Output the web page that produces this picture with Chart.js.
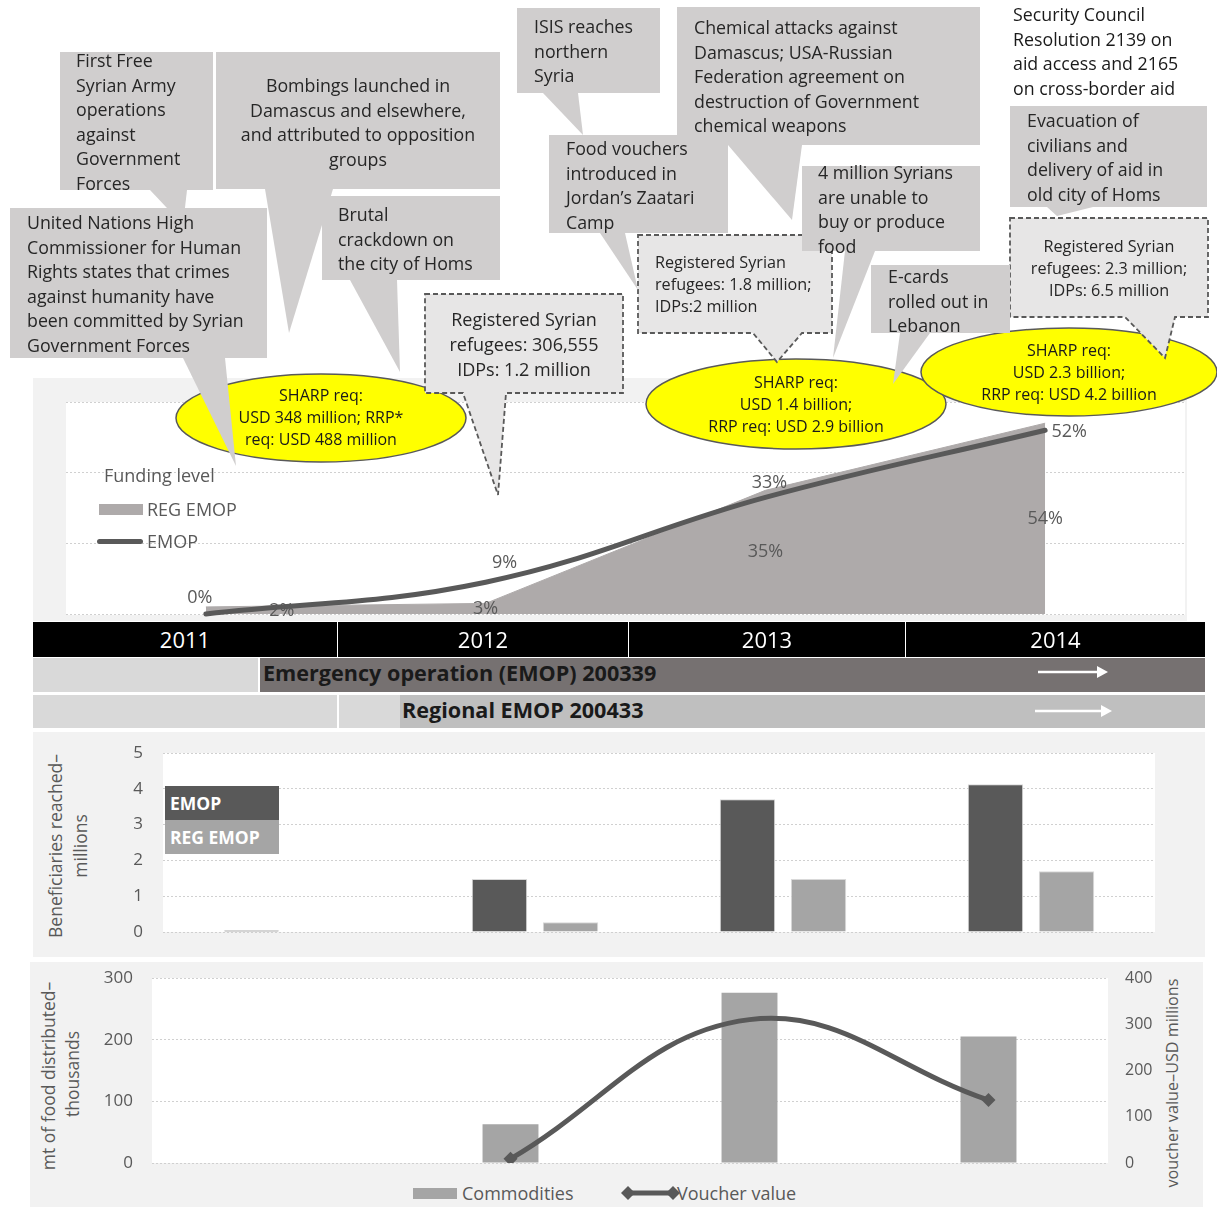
<!DOCTYPE html>
<html>
<head>
<meta charset="utf-8">
<script src="https://cdn.jsdelivr.net/npm/chart.js@4.4.1/dist/chart.umd.min.js"></script>
<style>
body { margin: 0; background: #fff; font-family: 'Open Sans', sans-serif; }
#page { position: relative; width: 1217px; height: 1207px; overflow: hidden; background: #fff; }
.box { position: absolute; }
.panel { position: absolute; background: #f2f2f2; }
.plotbg { position: absolute; background: #fff; }
.cv { position: absolute; }
.cell { position: absolute; display: flex; align-items: center; box-sizing: border-box; white-space: nowrap; }
.year { background: #000; color: #fff; font-size: 22px; justify-content: center; padding-bottom: 2px; }
.op { font-weight: 700; font-size: 21.6px; color: #1a1a1a; padding-bottom: 5px; }
.txt { position: absolute; color: #595959; font-size: 18px; white-space: nowrap; transform: translateY(-50%); }
.rot { position: absolute; color: #595959; font-size: 17.5px; white-space: nowrap; transform: translate(-50%, -50%) rotate(-90deg); }
.leg { position: absolute; color: #fff; font-weight: 700; font-size: 17.5px; box-sizing: border-box; padding-left: 5px; display: flex; align-items: center; }
#overlay { position: absolute; left: 0; top: 0; }
</style>
</head>
<body>
<div id="page">
  <!-- panels -->
  <div class="panel" style="left:33px;top:378px;width:1154px;height:243px"></div>
  <div class="plotbg" style="left:66px;top:402px;width:1119px;height:213px"></div>
  <div class="panel" style="left:33px;top:732px;width:1172px;height:225px"></div>
  <div class="plotbg" style="left:163px;top:753px;width:992px;height:179px"></div>
  <div class="panel" style="left:30px;top:962px;width:1173px;height:245px"></div>
  <div class="plotbg" style="left:152px;top:978px;width:956px;height:185px"></div>

  <canvas id="fundingChart" class="cv" width="1119" height="232" style="left:66px;top:392px"></canvas>
  <canvas id="beneficiaryChart" class="cv" width="1064" height="199" style="left:96px;top:743px"></canvas>
  <canvas id="foodChart" class="cv" width="1070" height="205" style="left:90px;top:968px"></canvas>

  <!-- funding legend -->
  <div class="txt" style="left:104px;top:475px">Funding level</div>
  <div class="box" style="left:99px;top:504px;width:44px;height:11px;background:#aeaaaa"></div>
  <div class="txt" style="left:147px;top:509px">REG EMOP</div>
  <div class="box" style="left:97px;top:539px;width:46px;height:5px;border-radius:3px;background:#595959"></div>
  <div class="txt" style="left:147px;top:541px">EMOP</div>

  <!-- timeline -->
  <div class="cell year" style="left:33px;top:622px;width:304px;height:35px">2011</div>
  <div class="cell year" style="left:338px;top:622px;width:290px;height:35px">2012</div>
  <div class="cell year" style="left:629px;top:622px;width:276px;height:35px">2013</div>
  <div class="cell year" style="left:906px;top:622px;width:299px;height:35px">2014</div>
  <div class="cell" style="left:33px;top:658px;width:225px;height:34px;background:#d9d9d9"></div>
  <div class="cell op" style="left:260px;top:658px;width:945px;height:34px;background:#767171;padding-left:3px">Emergency operation (EMOP) 200339</div>
  <div class="cell" style="left:33px;top:695px;width:304px;height:33px;background:#d9d9d9"></div>
  <div class="cell" style="left:339px;top:695px;width:61px;height:33px;background:#d9d9d9"></div>
  <div class="cell op" style="left:400px;top:695px;width:805px;height:33px;background:#bfbfbf;padding-left:2px">Regional EMOP 200433</div>

  <!-- beneficiaries legend and title -->
  <div class="leg" style="left:165px;top:786px;width:114px;height:34px;background:#595959">EMOP</div>
  <div class="leg" style="left:165px;top:820px;width:114px;height:34px;background:#a5a5a5">REG EMOP</div>
  <div class="rot" style="left:55px;top:846px">Beneficiaries reached–</div>
  <div class="rot" style="left:80px;top:846px">millions</div>

  <!-- food chart legend and titles -->
  <div class="box" style="left:413px;top:1188px;width:44px;height:11px;background:#a5a5a5"></div>
  <div class="txt" style="left:462px;top:1193px">Commodities</div>
  <div class="txt" style="left:677px;top:1193px">Voucher value</div>
  <div class="rot" style="left:48px;top:1076px">mt of food distributed–</div>
  <div class="rot" style="left:72px;top:1074px">thousands</div>
  <div class="rot" style="left:1172px;top:1083px;font-size:16.2px">voucher value–USD millions</div>

  <svg id="overlay" width="1217" height="1207"></svg>
</div>

<script>
// funding level (%)
const years = ['2011', '2012', '2013', '2014'];
const fundingEmop = [0, 9, 33, 52];
const fundingRegEmop = [2, 3, 35, 54];
const fundingTicks = [0, 20, 40, 60];

// beneficiaries reached (millions)
const beneficiariesEmop = [0.05, 1.48, 3.71, 4.13];
const beneficiariesRegEmop = [0, 0.27, 1.48, 1.70];
const beneficiaryTicks = [0, 1, 2, 3, 4, 5];

// food distributed (thousand mt) and voucher value (USD millions)
const commodities = [1, 63, 276, 205];
const voucherValue = [null, 9, 310, 136];
const commodityTicks = [0, 100, 200, 300];
const voucherTicks = [0, 100, 200, 300, 400];

// label placement for the funding chart
const emopLabelOffset = [[-6, -16], [19, -19], [4, -15], [24, 2]];
const regLabelShift = [76, 0, 0, 0];

Chart.defaults.font.family = "'Open Sans', sans-serif";
Chart.defaults.color = '#595959';

const gridStyle = { color: '#d0d0d0', lineWidth: 1, drawTicks: false };
const dotted = { display: false, dash: [2, 2] };

// keep the plot area where the layout padding puts it
function fixWidth(w) {
    return s => { s.width = w; s.paddingTop = 0; s.paddingBottom = 0; };
}

const fundingLabels = {
    id: 'fundingLabels',
    afterDatasetsDraw(chart) {
        const ctx = chart.ctx;
        const x = chart.scales.x, y = chart.scales.y;
        ctx.save();
        ctx.font = "18px 'Open Sans'";
        ctx.fillStyle = '#595959';
        ctx.textAlign = 'center';
        ctx.textBaseline = 'middle';
        fundingEmop.forEach((v, i) => {
            ctx.fillText(v + '%', x.getPixelForValue(i) + emopLabelOffset[i][0], y.getPixelForValue(v) + emopLabelOffset[i][1]);
        });
        fundingRegEmop.forEach((v, i) => {
            const mid = (y.getPixelForValue(v) + y.getPixelForValue(0)) / 2;
            ctx.fillText(v + '%', x.getPixelForValue(i) + regLabelShift[i], mid);
        });
        ctx.restore();
    }
};

function drawCharts() {
    new Chart(document.getElementById('fundingChart'), {
        type: 'line',
        data: {
            labels: years,
            datasets: [{
                label: 'EMOP',
                data: fundingEmop,
                borderColor: '#595959',
                borderWidth: 5,
                borderCapStyle: 'round',
                tension: 0.4,
                pointRadius: 0,
                fill: false,
                clip: false
            }, {
                label: 'REG EMOP',
                data: fundingRegEmop,
                borderColor: '#aeaaaa',
                borderWidth: 1,
                backgroundColor: '#aeaaaa',
                tension: 0,
                pointRadius: 0,
                fill: 'origin'
            }]
        },
        options: {
            responsive: false,
            animation: false,
            devicePixelRatio: 1,
            layout: { padding: { top: 10, bottom: 10, left: 0, right: 0 } },
            scales: {
                x: { display: false, offset: true },
                y: {
                    min: fundingTicks[0], max: fundingTicks[fundingTicks.length - 1],
                    afterBuildTicks: s => { s.ticks = fundingTicks.map(v => ({ value: v })); },
                    ticks: { display: false },
                    grid: gridStyle,
                    border: dotted,
                    afterFit: fixWidth(0)
                }
            },
            plugins: { legend: { display: false }, tooltip: { enabled: false } }
        },
        plugins: [fundingLabels]
    });

    new Chart(document.getElementById('beneficiaryChart'), {
        type: 'bar',
        data: {
            labels: years,
            datasets: [{
                label: 'EMOP',
                data: beneficiariesEmop,
                backgroundColor: '#595959',
                borderColor: '#d9d9d9',
                borderWidth: 1
            }, {
                label: 'REG EMOP',
                data: beneficiariesRegEmop,
                backgroundColor: '#a5a5a5',
                borderColor: '#d9d9d9',
                borderWidth: 1
            }]
        },
        options: {
            responsive: false,
            animation: false,
            devicePixelRatio: 1,
            categoryPercentage: 0.573,
            barPercentage: 0.78,
            layout: { padding: { top: 10, bottom: 10, left: 0, right: 5 } },
            scales: {
                x: { display: false },
                y: {
                    min: 0, max: beneficiaryTicks[beneficiaryTicks.length - 1],
                    afterBuildTicks: s => { s.ticks = beneficiaryTicks.map(v => ({ value: v })); },
                    ticks: { padding: 20, font: { size: 17 }, color: '#595959' },
                    grid: gridStyle,
                    border: dotted,
                    afterFit: fixWidth(67)
                }
            },
            plugins: { legend: { display: false }, tooltip: { enabled: false } }
        }
    });

    new Chart(document.getElementById('foodChart'), {
        type: 'bar',
        data: {
            labels: years,
            datasets: [{
                type: 'line',
                label: 'Voucher value',
                data: voucherValue,
                yAxisID: 'y1',
                borderColor: '#595959',
                backgroundColor: '#595959',
                borderWidth: 5,
                tension: 0.4,
                pointStyle: 'rectRot',
                pointRadius: [0, 7, 0, 7],
                pointBorderWidth: 0,
                order: 0
            }, {
                label: 'Commodities',
                data: commodities,
                yAxisID: 'y',
                backgroundColor: '#a5a5a5',
                categoryPercentage: 1,
                barPercentage: 0.234,
                order: 1
            }]
        },
        options: {
            responsive: false,
            animation: false,
            devicePixelRatio: 1,
            layout: { padding: { top: 10, bottom: 10, left: 0, right: 0 } },
            scales: {
                x: { display: false },
                y: {
                    position: 'left',
                    min: 0, max: commodityTicks[commodityTicks.length - 1],
                    afterBuildTicks: s => { s.ticks = commodityTicks.map(v => ({ value: v })); },
                    ticks: { padding: 19, font: { size: 17 }, color: '#595959' },
                    grid: gridStyle,
                    border: dotted,
                    afterFit: fixWidth(62)
                },
                y1: {
                    position: 'right',
                    min: 0, max: voucherTicks[voucherTicks.length - 1],
                    afterBuildTicks: s => { s.ticks = voucherTicks.map(v => ({ value: v })); },
                    ticks: { padding: 17, font: { size: 16 }, color: '#595959' },
                    grid: { drawOnChartArea: false, drawTicks: false },
                    border: { display: false },
                    afterFit: fixWidth(52)
                }
            },
            plugins: { legend: { display: false }, tooltip: { enabled: false } }
        }
    });
}

// annotation layer: callouts, bubbles and timeline arrows
const svgNS = 'http://www.w3.org/2000/svg';
const overlay = document.getElementById('overlay');

function add(tag, attrs) {
    const e = document.createElementNS(svgNS, tag);
    for (const k in attrs) e.setAttribute(k, attrs[k]);
    overlay.appendChild(e);
    return e;
}

function addText(lines, x, y, lh, size, anchor, color) {
    const t = add('text', {
        x: x, y: y, 'font-size': size, 'text-anchor': anchor || 'start',
        fill: color || '#262626', 'font-family': "'Open Sans', sans-serif"
    });
    lines.forEach((line, i) => {
        const s = document.createElementNS(svgNS, 'tspan');
        s.setAttribute('x', x);
        s.setAttribute('y', y + i * lh);
        s.setAttribute('dominant-baseline', 'central');
        s.textContent = line;
        t.appendChild(s);
    });
}

const bubbles = [
    { cx: 321, cy: 418, rx: 145, ry: 44, lines: ['SHARP req:', 'USD 348 million; RRP*', 'req: USD 488 million'], y: 395 },
    { cx: 796, cy: 404, rx: 150, ry: 45, lines: ['SHARP req:', 'USD 1.4 billion;', 'RRP req: USD 2.9 billion'], y: 382 },
    { cx: 1069, cy: 372, rx: 148, ry: 44, lines: ['SHARP req:', 'USD 2.3 billion;', 'RRP req: USD 4.2 billion'], y: 350 }
];

const callouts = [
    { box: [60, 52, 153, 138], tail: [[150, 190], [187, 190], [183, 225]],
      lines: ['First Free', 'Syrian Army', 'operations', 'against', 'Government', 'Forces'], x: 76, y: 60 },
    { box: [216, 52, 284, 137], tail: [[265, 189], [333, 189], [289, 333]],
      lines: ['Bombings launched in', 'Damascus and elsewhere,', 'and attributed to opposition', 'groups'], x: 358, y: 85, anchor: 'middle' },
    { box: [10, 208, 257, 150], tail: [[183, 358], [225, 358], [236, 466]],
      lines: ['United Nations High', 'Commissioner for Human', 'Rights states that crimes', 'against humanity have', 'been committed by Syrian', 'Government Forces'], x: 27, y: 222 },
    { box: [322, 196, 178, 84], tail: [[350, 280], [397, 280], [400, 372]],
      lines: ['Brutal', 'crackdown on', 'the city of Homs'], x: 338, y: 214 },
    { box: [517, 8, 143, 85], tail: [[543, 93], [578, 93], [583, 135]],
      lines: ['ISIS reaches', 'northern', 'Syria'], x: 534, y: 26 },
    { box: [549, 135, 179, 98], tail: [[600, 233], [625, 233], [638, 290]],
      lines: ['Food vouchers', 'introduced in', 'Jordan’s Zaatari', 'Camp'], x: 566, y: 148 },
    { box: [677, 7, 303, 138], tail: [[728, 145], [802, 145], [792, 220]],
      lines: ['Chemical attacks against', 'Damascus; USA-Russian', 'Federation agreement on', 'destruction of Government', 'chemical weapons'], x: 694, y: 27 },
    { box: [802, 166, 178, 85], tail: [[845, 251], [875, 251], [833, 358]],
      lines: ['4 million Syrians', 'are unable to', 'buy or produce', 'food'], x: 818, y: 172 },
    { box: [871, 265, 139, 68], tail: [[900, 333], [930, 333], [893, 384]],
      lines: ['E-cards', 'rolled out in', 'Lebanon'], x: 888, y: 276 },
    { box: [1010, 106, 197, 101], tail: [[1047, 207], [1093, 207], [1057, 216]],
      lines: ['Evacuation of', 'civilians and', 'delivery of aid in', 'old city of Homs'], x: 1027, y: 120 }
];

const dashedNotes = [
    { box: [425, 294, 198, 99], tail: [463, 506, 498, 495],
      lines: ['Registered Syrian', 'refugees: 306,555', 'IDPs: 1.2 million'], x: 524, y: 319, lh: 25, size: 18, anchor: 'middle' },
    { box: [638, 235, 194, 98], tail: [753, 802, 777, 362],
      lines: ['Registered Syrian', 'refugees: 1.8 million;', 'IDPs:2 million'], x: 655, y: 262, lh: 22, size: 16.2 },
    { box: [1010, 218, 198, 99], tail: [1125, 1175, 1165, 358],
      lines: ['Registered Syrian', 'refugees: 2.3 million;', 'IDPs: 6.5 million'], x: 1109, y: 246, lh: 22, size: 16.2, anchor: 'middle' }
];

function drawAnnotations() {
    // timeline arrows
    [[1038, 1108, 672], [1035, 1112, 711]].forEach(([x0, x1, y]) => {
        add('line', { x1: x0, y1: y, x2: x1 - 8, y2: y, stroke: '#fff', 'stroke-width': 2.5 });
        add('polygon', { points: `${x1},${y} ${x1 - 11},${y - 6} ${x1 - 11},${y + 6}`, fill: '#fff' });
    });

    // yellow requirement bubbles
    bubbles.forEach(b => {
        add('ellipse', { cx: b.cx, cy: b.cy, rx: b.rx, ry: b.ry, fill: '#ffff00', stroke: '#595959', 'stroke-width': 1.5 });
    });

    // dashed refugee notes
    dashedNotes.forEach(d => {
        const [x, y, w, h] = d.box;
        const [tl, tr, tx, ty] = d.tail;
        const b = y + h;
        add('path', {
            d: `M${x},${y} H${x + w} V${b} H${tr} L${tx},${ty} L${tl},${b} H${x} Z`,
            fill: '#e7e6e6', stroke: '#595959', 'stroke-width': 1.8, 'stroke-dasharray': '5,3'
        });
        addText(d.lines, d.x, d.y, d.lh, d.size, d.anchor);
    });

    // grey event callouts
    callouts.forEach(c => {
        const [x, y, w, h] = c.box;
        add('polygon', { points: c.tail.map(p => p.join(',')).join(' '), fill: '#d0cece' });
        add('rect', { x: x, y: y, width: w, height: h, fill: '#d0cece' });
    });
    callouts.forEach(c => addText(c.lines, c.x, c.y, 24.6, 17.8, c.anchor));

    bubbles.forEach(b => addText(b.lines, b.cx, b.y, 22, 16, 'middle', '#1a1a1a'));

    // free-standing note
    addText(['Security Council', 'Resolution 2139 on', 'aid access and 2165', 'on cross-border aid'], 1013, 14, 24.6, 17.8, 'start', '#1a1a1a');

    // voucher legend swatch
    add('line', { x1: 628, y1: 1193, x2: 673, y2: 1193, stroke: '#595959', 'stroke-width': 5 });
    [628, 673].forEach(cx => add('polygon', {
        points: `${cx - 7},1193 ${cx},1186 ${cx + 7},1193 ${cx},1200`, fill: '#595959'
    }));
}

document.fonts.load("16px 'Open Sans'").then(() => {
    drawCharts();
    drawAnnotations();
});
</script>
</body>
</html>
